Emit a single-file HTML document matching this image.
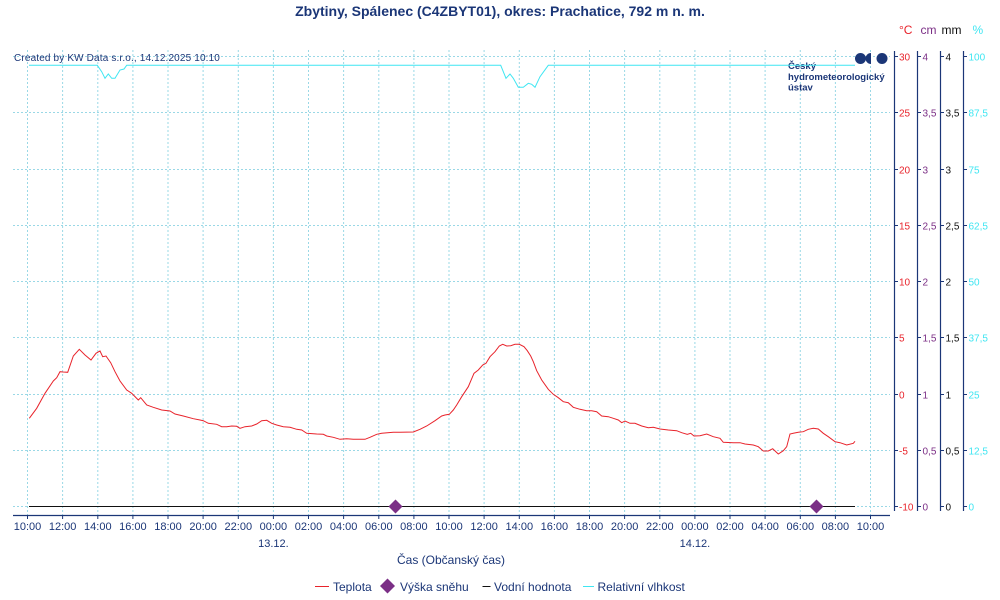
<!DOCTYPE html>
<html><head><meta charset="utf-8"><style>
html,body{margin:0;padding:0;background:#fff;}
svg{display:block;font-family:"Liberation Sans",Arial,sans-serif;}
</style></head><body>
<svg width="1000" height="600" viewBox="0 0 1000 600" xmlns="http://www.w3.org/2000/svg">
<rect width="1000" height="600" fill="#fff"/>
<text x="500" y="16" text-anchor="middle" font-size="14" font-weight="bold" fill="#1b3677">Zbytiny, Spálenec (C4ZBYT01), okres: Prachatice, 792 m n. m.</text>
<g stroke="#9ad8e6" stroke-width="1" stroke-dasharray="2,2">
<line x1="27.5" y1="50" x2="27.5" y2="515"/><line x1="62.6" y1="50" x2="62.6" y2="515"/><line x1="97.8" y1="50" x2="97.8" y2="515"/><line x1="132.9" y1="50" x2="132.9" y2="515"/><line x1="168" y1="50" x2="168" y2="515"/><line x1="203.1" y1="50" x2="203.1" y2="515"/><line x1="238.3" y1="50" x2="238.3" y2="515"/><line x1="273.4" y1="50" x2="273.4" y2="515"/><line x1="308.5" y1="50" x2="308.5" y2="515"/><line x1="343.6" y1="50" x2="343.6" y2="515"/><line x1="378.8" y1="50" x2="378.8" y2="515"/><line x1="413.9" y1="50" x2="413.9" y2="515"/><line x1="449" y1="50" x2="449" y2="515"/><line x1="484.1" y1="50" x2="484.1" y2="515"/><line x1="519.3" y1="50" x2="519.3" y2="515"/><line x1="554.4" y1="50" x2="554.4" y2="515"/><line x1="589.5" y1="50" x2="589.5" y2="515"/><line x1="624.6" y1="50" x2="624.6" y2="515"/><line x1="659.8" y1="50" x2="659.8" y2="515"/><line x1="694.9" y1="50" x2="694.9" y2="515"/><line x1="730" y1="50" x2="730" y2="515"/><line x1="765.1" y1="50" x2="765.1" y2="515"/><line x1="800.3" y1="50" x2="800.3" y2="515"/><line x1="835.4" y1="50" x2="835.4" y2="515"/><line x1="870.5" y1="50" x2="870.5" y2="515"/>
<line x1="13" y1="56.5" x2="890" y2="56.5"/><line x1="13" y1="112.5" x2="890" y2="112.5"/><line x1="13" y1="169.5" x2="890" y2="169.5"/><line x1="13" y1="225.5" x2="890" y2="225.5"/><line x1="13" y1="281.5" x2="890" y2="281.5"/><line x1="13" y1="337.5" x2="890" y2="337.5"/><line x1="13" y1="394.5" x2="890" y2="394.5"/><line x1="13" y1="450.5" x2="890" y2="450.5"/><line x1="13" y1="506.5" x2="890" y2="506.5"/>
</g>
<text x="14" y="61" font-size="10" fill="#1b3677" letter-spacing="0.15">Created by KW Data s.r.o., 14.12.2025 10:10</text>
<!-- logo -->
<circle cx="860.5" cy="58.5" r="5.5" fill="#1b3677"/>
<path d="M871,53 A5.5,5.5 0 0,0 871,64 Z" fill="#1b3677"/>
<circle cx="882" cy="58.5" r="5.5" fill="#1b3677"/>
<text font-size="9.5" font-weight="bold" fill="#1b3677"><tspan x="788" y="69">Český</tspan><tspan x="788" y="80">hydrometeorologický</tspan><tspan x="788" y="90.5">ústav</tspan></text>
<!-- humidity -->
<polyline fill="none" stroke="#3fe6f2" stroke-width="1" points="29,65.3 97.3,65.3 101.7,71.7 105,78.3 108.3,74 111.7,78.3 115,78.3 120,70 124,69 126.7,65.3 500.7,65.3 506,78.3 510,74 513.3,78.3 518.3,87.3 523.3,87.3 528.3,83.3 531.7,84.3 535,87.3 540,76.7 548.3,65.3 855,65.3"/>
<!-- water line -->
<line x1="29" y1="506.5" x2="855" y2="506.5" stroke="#111" stroke-width="1"/>
<!-- temperature -->
<polyline fill="none" stroke="#e8232b" stroke-width="1" points="29.3,418.3 36.7,408.3 45,393.3 53.3,381 56.7,377.7 60,371.7 63.3,372 67.7,372.3 73.3,356 79.3,349.3 85,355 91,360 96,353.3 100,351 102.7,356.7 106,356 110.7,362.7 115,371.7 120,381 126.7,390 131.7,393.3 138.3,400 140.7,397.7 146.7,405 153.3,407.3 161.7,410 170,411 175,414 183.3,416 193.3,418.7 200,420 203.3,420.7 208.3,423.3 216.7,424.3 221.7,426.7 226.7,426.7 231.7,426 236.7,426.3 240,428.3 245,426.7 251.7,426 256.7,424 261.7,420.7 266.7,420.3 271.7,423.3 276.7,425 283.3,426.7 290,427.3 296.7,429.3 301.7,430 306.7,433.3 316.7,434 323.3,434.3 326.7,436 333.3,437.3 340,439.3 346.7,438.7 353.3,439.3 365,439.3 370,437.3 376.7,434.3 381.7,433.3 393.3,432.3 400,432.3 413.3,432 420,429.3 426.7,426 435,420.7 441.7,416 445,415 449.3,414.3 453.3,410 456.7,405 461.7,396.7 468.3,386.7 474,373.3 478.3,370 482.7,365 486,363.3 490,356.7 495,351.7 499.3,346 502.7,344.3 506.7,346 510.7,345.7 515,344.3 519.3,344.3 524,346.7 527.3,350.7 530.7,356 533.3,361.7 536.7,370.7 541.7,380 548.3,389.3 553.3,394.3 558.3,397.7 563.3,401.7 568.3,402.7 573.3,407.3 580,409.3 586.7,410.7 591.7,410.7 596.7,411.7 601.7,416 608.3,416.7 613.3,418.3 618.3,420 621.7,422.7 625,421 630,423.3 635,423.3 641.7,426 648.3,427.7 653.3,427.3 660,429 668.3,430 676.7,430.7 681.7,432.7 687.3,434.3 690.7,433.3 694,436 700,435.7 706.7,434 713.3,436.7 720,438.3 723.3,442.3 733.3,442.7 740,442.7 745,444 753.3,445 758.3,446.7 763.3,451 768.3,451 772.7,448.7 778.3,454 783.3,450.7 786.7,446.7 790,434 793.3,433.3 798.3,432.3 803.3,431.7 808.3,429.3 813.3,428.3 818.3,429 823.3,433.3 828.3,436.7 835,441.7 840,442.7 846.7,445 853.3,443.3 855,441.3"/>
<!-- snow diamonds -->
<polygon points="395.5,499.5 402.5,506.5 395.5,513.5 388.5,506.5" fill="#7b2f86"/>
<polygon points="816.5,499.5 823.5,506.5 816.5,513.5 809.5,506.5" fill="#7b2f86"/>
<!-- bottom axis -->
<line x1="13" y1="515.5" x2="890" y2="515.5" stroke="#1b3677" stroke-width="1.2"/>
<g stroke="#1b3677" stroke-width="1">
<line x1="27.5" y1="515" x2="27.5" y2="519"/><line x1="62.6" y1="515" x2="62.6" y2="519"/><line x1="97.8" y1="515" x2="97.8" y2="519"/><line x1="132.9" y1="515" x2="132.9" y2="519"/><line x1="168" y1="515" x2="168" y2="519"/><line x1="203.1" y1="515" x2="203.1" y2="519"/><line x1="238.3" y1="515" x2="238.3" y2="519"/><line x1="273.4" y1="515" x2="273.4" y2="519"/><line x1="308.5" y1="515" x2="308.5" y2="519"/><line x1="343.6" y1="515" x2="343.6" y2="519"/><line x1="378.8" y1="515" x2="378.8" y2="519"/><line x1="413.9" y1="515" x2="413.9" y2="519"/><line x1="449" y1="515" x2="449" y2="519"/><line x1="484.1" y1="515" x2="484.1" y2="519"/><line x1="519.3" y1="515" x2="519.3" y2="519"/><line x1="554.4" y1="515" x2="554.4" y2="519"/><line x1="589.5" y1="515" x2="589.5" y2="519"/><line x1="624.6" y1="515" x2="624.6" y2="519"/><line x1="659.8" y1="515" x2="659.8" y2="519"/><line x1="694.9" y1="515" x2="694.9" y2="519"/><line x1="730" y1="515" x2="730" y2="519"/><line x1="765.1" y1="515" x2="765.1" y2="519"/><line x1="800.3" y1="515" x2="800.3" y2="519"/><line x1="835.4" y1="515" x2="835.4" y2="519"/><line x1="870.5" y1="515" x2="870.5" y2="519"/>
</g>
<g font-size="11" fill="#1b3677" text-anchor="middle">
<text x="27.5" y="530">10:00</text><text x="62.6" y="530">12:00</text><text x="97.8" y="530">14:00</text><text x="132.9" y="530">16:00</text><text x="168" y="530">18:00</text><text x="203.1" y="530">20:00</text><text x="238.3" y="530">22:00</text><text x="273.4" y="530">00:00</text><text x="308.5" y="530">02:00</text><text x="343.6" y="530">04:00</text><text x="378.8" y="530">06:00</text><text x="413.9" y="530">08:00</text><text x="449" y="530">10:00</text><text x="484.1" y="530">12:00</text><text x="519.3" y="530">14:00</text><text x="554.4" y="530">16:00</text><text x="589.5" y="530">18:00</text><text x="624.6" y="530">20:00</text><text x="659.8" y="530">22:00</text><text x="694.9" y="530">00:00</text><text x="730" y="530">02:00</text><text x="765.1" y="530">04:00</text><text x="800.3" y="530">06:00</text><text x="835.4" y="530">08:00</text><text x="870.5" y="530">10:00</text>
<text x="273.4" y="547">13.12.</text><text x="694.9" y="547">14.12.</text>
<text x="451" y="564" font-size="12">Čas (Občanský čas)</text>
</g>
<!-- right axes -->
<g stroke="#1b3677" stroke-width="1.2">
<line x1="894.5" y1="51" x2="894.5" y2="511"/><line x1="917.5" y1="51" x2="917.5" y2="511"/><line x1="940.5" y1="51" x2="940.5" y2="511"/><line x1="963.5" y1="51" x2="963.5" y2="511"/>
</g>
<g stroke="#1b3677" stroke-width="1">
<path d="M894,56.5h4M894,112.5h4M894,169.5h4M894,225.5h4M894,281.5h4M894,337.5h4M894,394.5h4M894,450.5h4M894,506.5h4"/>
<path d="M917,56.5h4M917,112.5h4M917,169.5h4M917,225.5h4M917,281.5h4M917,337.5h4M917,394.5h4M917,450.5h4M917,506.5h4"/>
<path d="M940,56.5h4M940,112.5h4M940,169.5h4M940,225.5h4M940,281.5h4M940,337.5h4M940,394.5h4M940,450.5h4M940,506.5h4"/>
<path d="M963,56.5h4M963,112.5h4M963,169.5h4M963,225.5h4M963,281.5h4M963,337.5h4M963,394.5h4M963,450.5h4M963,506.5h4"/>
</g>
<g font-size="10">
<g fill="#e8232b"><text x="899" y="60.5">30</text><text x="899" y="116.5">25</text><text x="899" y="173.5">20</text><text x="899" y="229.5">15</text><text x="899" y="285.5">10</text><text x="899" y="341.5">5</text><text x="899" y="398.5">0</text><text x="899" y="454.5">-5</text><text x="899" y="510.5">-10</text></g>
<g fill="#7b2f86"><text x="922.5" y="60.5">4</text><text x="922.5" y="116.5">3,5</text><text x="922.5" y="173.5">3</text><text x="922.5" y="229.5">2,5</text><text x="922.5" y="285.5">2</text><text x="922.5" y="341.5">1,5</text><text x="922.5" y="398.5">1</text><text x="922.5" y="454.5">0,5</text><text x="922.5" y="510.5">0</text></g>
<g fill="#111"><text x="945.5" y="60.5">4</text><text x="945.5" y="116.5">3,5</text><text x="945.5" y="173.5">3</text><text x="945.5" y="229.5">2,5</text><text x="945.5" y="285.5">2</text><text x="945.5" y="341.5">1,5</text><text x="945.5" y="398.5">1</text><text x="945.5" y="454.5">0,5</text><text x="945.5" y="510.5">0</text></g>
<g fill="#3fe6f2"><text x="968.5" y="60.5">100</text><text x="968.5" y="116.5">87,5</text><text x="968.5" y="173.5">75</text><text x="968.5" y="229.5">62,5</text><text x="968.5" y="285.5">50</text><text x="968.5" y="341.5">37,5</text><text x="968.5" y="398.5">25</text><text x="968.5" y="454.5">12,5</text><text x="968.5" y="510.5">0</text></g>
</g>
<g font-size="12">
<text x="899" y="34" fill="#e8232b">°C</text>
<text x="920.5" y="34" fill="#7b2f86">cm</text>
<text x="941.5" y="34" fill="#111">mm</text>
<text x="972.5" y="34" fill="#3fe6f2">%</text>
</g>
<!-- legend -->
<g font-size="12" fill="#1b3677">
<line x1="315" y1="586.5" x2="329" y2="586.5" stroke="#e8232b" stroke-width="1"/>
<text x="333" y="591">Teplota</text>
<polygon points="387.5,578.5 395,586 387.5,593.5 380,586" fill="#7b2f86"/>
<text x="400" y="591">Výška sněhu</text>
<line x1="482.5" y1="586.5" x2="490.5" y2="586.5" stroke="#111" stroke-width="1"/>
<text x="494" y="591">Vodní hodnota</text>
<line x1="583" y1="586.5" x2="594" y2="586.5" stroke="#3fe6f2" stroke-width="1"/>
<text x="597.5" y="591">Relativní vlhkost</text>
</g>
</svg>
</body></html>
